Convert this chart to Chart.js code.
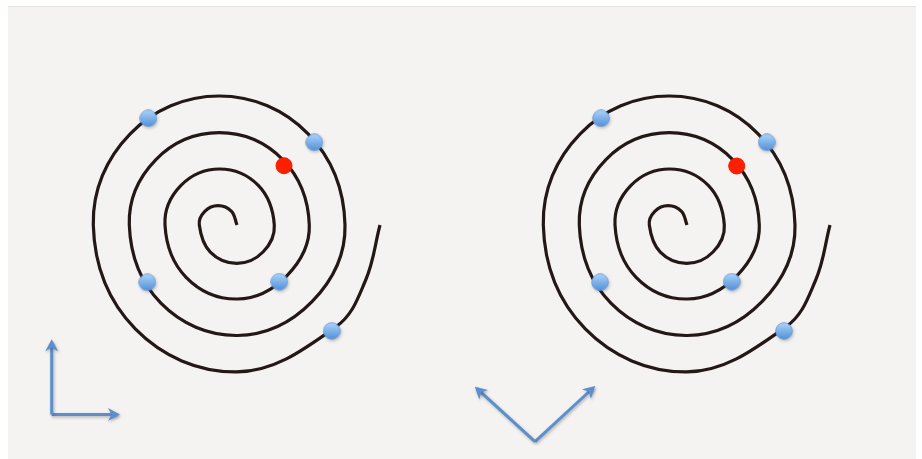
<!DOCTYPE html>
<html lang="en">
<head>
<meta charset="UTF-8" />
<title>Spirals</title>
<script src="https://cdn.jsdelivr.net/npm/chart.js@4.4.1/dist/chart.umd.min.js"></script>
<style>
  body { margin: 0; background: #fff; width: 922px; height: 459px; position: relative; overflow: hidden; }
  #panel { position: absolute; left: 8px; top: 6px; width: 908px; height: 453px; background: #f4f3f1; border-top: 1px solid #e4e2df; box-sizing: border-box; }
  canvas { position: absolute; top: 0; }
  #left { left: 0; }
  #right { left: 450px; }
</style>
</head>
<body>
<div id="panel"></div>
<canvas id="left" width="451" height="459"></canvas>
<canvas id="right" width="451" height="459"></canvas>
<script>
// spiral path, every 45 degrees (origin near the tip, y up)
const spiralX = [9.0, 3.5, -9.9, -23.2, -28.7, -17.7, 8.8, 35.0,
  46.3, 30.3, -8.4, -47.0, -63.0, -41.9, 9.2, 58.8,
  81.3, 54.9, -8.7, -72.3, -98.7, -67.1, 9.2, 84.0,
  117.0, 80.1, -8.9, -97.8, -134.7, -92.7, 8.7, 108.0, 137.5, 152.0];
const spiralY = [0, 13.7, 19.3, 13.7, 0, -27.2, -38.4, -27.0,
  0, 39.6, 56.0, 39.6, 0, -52.3, -74.0, -50.8,
  0, 65.2, 92.3, 65.2, 0, -78.2, -110.5, -76.7,
  0, 91.2, 129.0, 91.2, 0, -103.9, -146.9, -101.8, -55.5, 0];

// blue markers on the spiral, and the red one
const leftDotX = [-79.7, 86.3, -80.7, 51.3, 103.7];
const leftDotY = [106.7, 82.7, -57.3, -56.7, -106.0];
const leftRed = [56.0, 59.3];
const rightDotX = [-77.0, 88.7, -78.0, 53.7, 106.0];
const rightDotY = [106.7, 82.7, -57.3, -56.7, -106.0];
const rightRed = [58.7, 59.0];

// frame arrows, each [start, end]
const leftArrowX = [[-176.3, -176.3], [-176.3, -111.0]];
const leftArrowY = [[-189.5, -117.3], [-189.5, -189.5]];
const rightArrowX = [[-143.0, -201.0], [-143.0, -85.0]];
const rightArrowY = [[-216.7, -163.7], [-216.7, -163.0]];

const xy = (xs, ys) => xs.map((x, i) => ({ x, y: ys[i] }));

const arrowHeads = {
  id: 'arrowHeads',
  beforeDatasetDraw(chart, args) {
    const ds = chart.data.datasets[args.index];
    if (!ds.shadow) return;
    const ctx = chart.ctx;
    ctx.save();
    ctx.shadowColor = ds.shadow;
    ctx.shadowBlur = 3;
    ctx.shadowOffsetX = 1;
    ctx.shadowOffsetY = 1.5;
  },
  afterDatasetDraw(chart, args) {
    const ds = chart.data.datasets[args.index];
    if (!ds.shadow) return;
    const ctx = chart.ctx;
    if (ds.arrow) {
      const pts = args.meta.data;
      const a = pts[pts.length - 2], b = pts[pts.length - 1];
      ctx.translate(b.x, b.y);
      ctx.rotate(Math.atan2(b.y - a.y, b.x - a.x));
      ctx.beginPath();
      ctx.moveTo(3, 0);
      ctx.lineTo(-9, -6.5);
      ctx.lineTo(-5.5, 0);
      ctx.lineTo(-9, 6.5);
      ctx.closePath();
      ctx.fillStyle = ds.borderColor;
      ctx.fill();
    }
    ctx.restore();
  }
};

// glossy blue marker used as point style
const blueDot = document.createElement('canvas');
blueDot.width = 18; blueDot.height = 18;
(() => {
  const c = blueDot.getContext('2d');
  const g = c.createLinearGradient(0, 1, 0, 17);
  g.addColorStop(0, '#acd2f7');
  g.addColorStop(0.5, '#7db2ea');
  g.addColorStop(1, '#5890d4');
  c.beginPath();
  c.arc(9, 9, 8.3, 0, Math.PI * 2);
  c.fillStyle = g;
  c.fill();
  c.lineWidth = 0.8;
  c.strokeStyle = '#6a9bd6';
  c.stroke();
})();

function makeChart(id, dotX, dotY, red, arrX, arrY) {
  const arrows = arrX.map((xs, i) => ({
    data: xy(xs, arrY[i]),
    borderColor: '#5b8fcd',
    borderWidth: 3,
    pointRadius: 0,
    arrow: true,
    shadow: 'rgba(60,60,60,0.35)',
    order: 1
  }));
  new Chart(document.getElementById(id), {
    type: 'line',
    data: {
      datasets: [
        {
          data: [{ x: red[0], y: red[1] }],
          showLine: false,
          pointRadius: 8,
          pointBorderWidth: 1,
          pointBackgroundColor: '#fe1f00',
          pointBorderColor: '#f21a00',
          order: 0
        },
        {
          data: xy(dotX, dotY),
          showLine: false,
          pointRadius: 9,
          pointStyle: blueDot,
          shadow: 'rgba(40,60,90,0.3)',
          order: 0
        },
        ...arrows,
        {
          data: xy(spiralX, spiralY),
          borderColor: '#231815',
          borderWidth: 3.2,
          pointRadius: 0,
          tension: 0.38,
          fill: false,
          borderCapStyle: 'butt',
          borderJoinStyle: 'round',
          order: 2
        }
      ]
    },
    options: {
      responsive: false,
      animation: false,
      events: [],
      layout: { padding: 0, autoPadding: false },
      plugins: { legend: { display: false }, tooltip: { enabled: false } },
      scales: {
        x: { type: 'linear', min: -228, max: 223, display: false },
        y: { type: 'linear', min: -234, max: 225, display: false }
      }
    },
    plugins: [arrowHeads]
  });
}

makeChart('left', leftDotX, leftDotY, leftRed, leftArrowX, leftArrowY);
makeChart('right', rightDotX, rightDotY, rightRed, rightArrowX, rightArrowY);
</script>
</body>
</html>
